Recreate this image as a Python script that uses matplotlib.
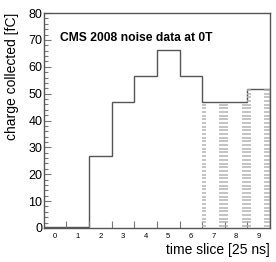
import matplotlib
matplotlib.use("Agg")
import matplotlib.pyplot as plt
import numpy as np
from matplotlib.ticker import MultipleLocator

plt.rcParams['font.family'] = ['Liberation Sans', 'DejaVu Sans']

# charge per 25 ns time slice
time_slices = np.arange(10)
charge = [0.4, 0.4, 26.7, 47.0, 56.4, 66.3, 56.4, 47.0, 47.0, 51.6]
# slices shown hatched (signal region)
hatched_slices = [7, 8, 9]

edges = np.arange(11) - 0.5

fig = plt.figure(figsize=(2.76, 2.62), dpi=100)
ax = fig.add_axes([0.159, 0.130, 0.819, 0.820])

# hatched region: short dashed rows clipped to the histogram shape
h_edges = edges[hatched_slices[0]:hatched_slices[-1] + 2]
h_vals = [charge[i] for i in hatched_slices]
clip = ax.stairs(h_vals, h_edges, baseline=0, fill=True,
                 facecolor='none', edgecolor='none')
rows = np.arange(0.7, max(h_vals), 1.37)
for e in h_edges:
    lc = ax.hlines(rows, e - 0.25, e + 0.15, color='#b4b4b4', lw=1.1)
    lc.set_clip_path(clip)

ax.stairs(charge, edges, baseline=0, color='#555555', lw=1.0)

ax.set_xlim(edges[0], edges[-1])
ax.set_ylim(0, 80)

for s in ax.spines.values():
    s.set_color('#555555')
    s.set_linewidth(1.0)

ax.set_xticks(edges[1:-1])
ax.set_xticklabels([])
ax.set_xticks(time_slices, minor=True)
ax.set_xticklabels([str(t) for t in time_slices], minor=True)
ax.tick_params(axis='x', which='major', direction='in', length=5,
               color='#777777', width=0.8)
ax.tick_params(axis='x', which='minor', length=0, labelsize=5.5, pad=4)

ax.yaxis.set_major_locator(MultipleLocator(10))
ax.yaxis.set_minor_locator(MultipleLocator(2))
ax.tick_params(axis='y', which='major', direction='in', length=5,
               color='#777777', width=0.8, labelsize=9, pad=1)
ax.tick_params(axis='y', which='minor', direction='in', length=2.7,
               color='#777777', width=0.8)

ax.set_ylabel('charge collected [fC]', fontsize=10, loc='top', labelpad=7)
ax.set_xlabel('time slice [25 ns]', fontsize=10, loc='right', labelpad=2)

ax.text(0.07, 0.886, 'CMS 2008 noise data at 0T', transform=ax.transAxes,
        fontsize=8.7, fontweight='bold', va='center', ha='left')

fig.savefig('out.png', dpi=100)
